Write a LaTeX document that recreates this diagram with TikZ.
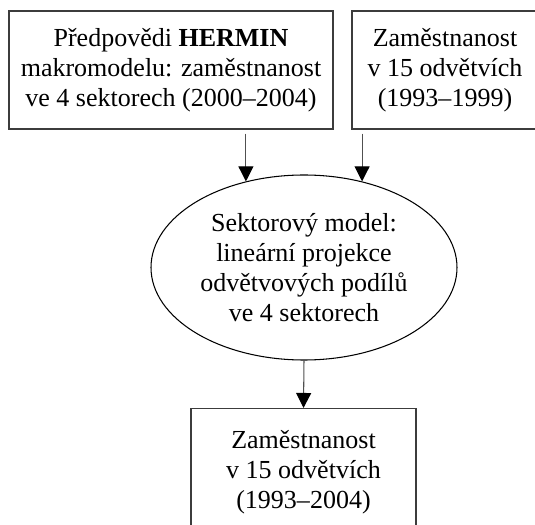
\documentclass[tikz,border=0pt]{standalone}
\usepackage{fontspec}
\setmainfont{Liberation Serif}
\usetikzlibrary{calc,arrows.meta,positioning,shapes.geometric}
\definecolor{cBox}{RGB}{60,60,60}
\definecolor{cArr}{RGB}{80,80,80}

\begin{document}
\begin{tikzpicture}[
  txt/.style={font=\fontsize{14.8}{17}\selectfont, align=center},
  box/.style={txt, draw=cBox, line width=0.6pt, inner sep=0pt},
  arr/.style={-{Triangle[length=0.3cm,width=0.3cm,color=black]}, cArr, line width=0.6pt},
]
  \clip (0,0) rectangle (10.7,10.5);
  % inputs
  \node[box, minimum width=6.48cm, minimum height=2.36cm] (hermin) at (3.42,9.10)
    {Předpovědi \textbf{HERMIN}\\makromodelu: zaměstnanost\\ve 4 sektorech (2000--2004)};
  \node[box, minimum width=3.72cm, minimum height=2.36cm] (past) at (8.9,9.10)
    {Zaměstnanost\\v 15 odvětvích\\(1993--1999)};
  % sector model
  \node[txt, ellipse, draw, line width=0.6pt, inner xsep=-0.25cm, inner ysep=0pt,
        minimum width=6.12cm, minimum height=3.7cm] (model) at (6.08,5.15)
    {Sektorový model:\\lineární projekce\\odvětvových podílů\\ve 4 sektorech};
  % output
  \node[box, minimum width=4.5cm, minimum height=2.56cm] (result) at (6.07,1.05)
    {Zaměstnanost\\v 15 odvětvích\\(1993--2004)};
  % arrows
  \draw[arr, shorten <=0.08cm] (hermin.south -| model.124) -- (model.124);
  \draw[arr, shorten <=0.08cm] (past.south -| model.56) -- (model.56);
  \draw[arr] (model.south) -- (result.north);
\end{tikzpicture}
\end{document}
